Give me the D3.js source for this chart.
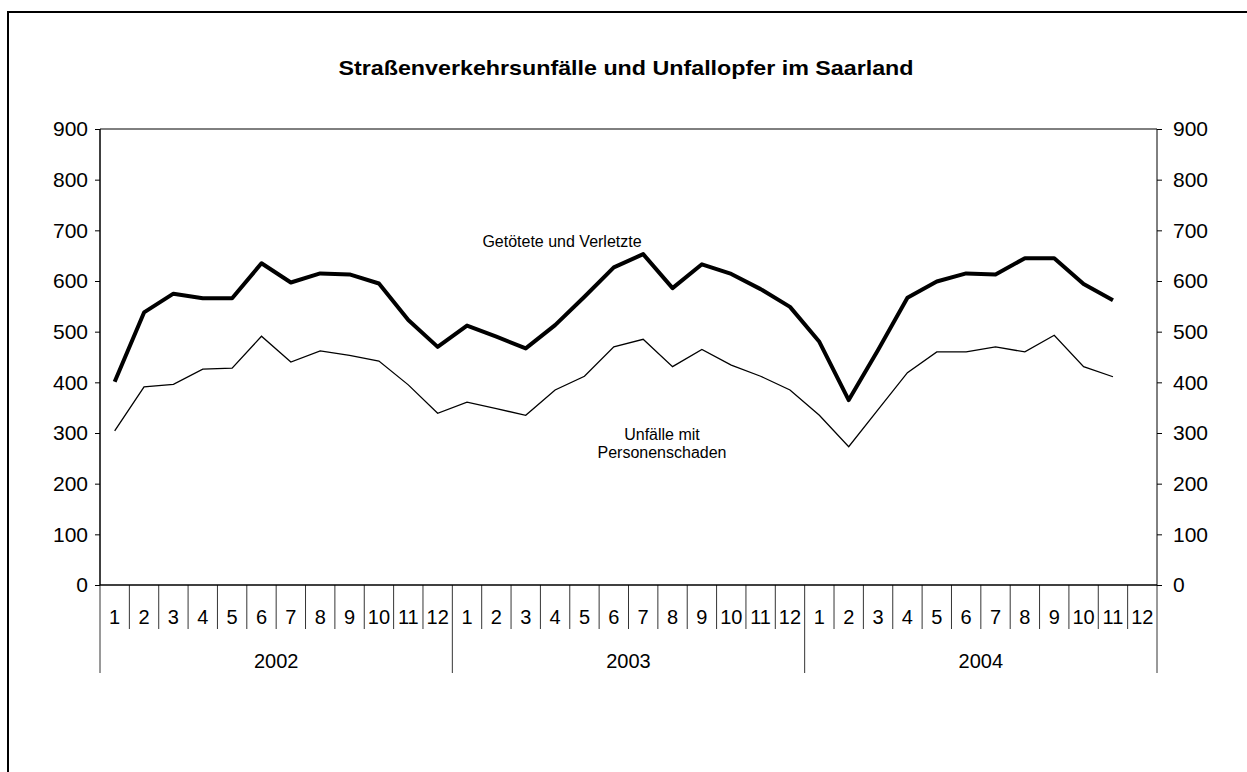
<!DOCTYPE html>
<html>
<head>
<meta charset="utf-8">
<script src="https://cdn.jsdelivr.net/npm/d3@7"></script>
<style>
  body { margin: 0; background: #fff; }
  text { font-family: "Liberation Sans", Arial, sans-serif; fill: #000; }
</style>
</head>
<body>
<div id="chart"></div>
<script>
// Daten: Monatswerte 2002-2004
var years = ["2002", "2003", "2004"];
var months = ["1","2","3","4","5","6","7","8","9","10","11","12"];
var verletzte = [401, 538, 575, 566, 566, 635, 597, 615, 613, 595, 523, 470,
                 512, 490, 467, 513, 569, 627, 653, 586, 633, 614, 584, 549,
                 480, 365, 464, 567, 599, 615, 613, 645, 645, 594, 562];
var unfaelle = [304, 391, 396, 426, 428, 491, 440, 462, 453, 442, 395, 339,
                361, 348, 335, 385, 412, 470, 485, 431, 465, 434, 412, 385,
                335, 273, 346, 419, 460, 460, 470, 460, 493, 431, 411];
var yTicks = [0, 100, 200, 300, 400, 500, 600, 700, 800, 900];

var width = 1247, height = 772;
var margin = { left: 100, right: 90, top: 129, bottom: 187 };
var innerW = width - margin.left - margin.right,
    innerH = height - margin.top - margin.bottom;

var svg = d3.select("#chart").append("svg")
    .attr("width", width)
    .attr("height", height);

// Rahmen
svg.append("rect")
    .attr("x", 8).attr("y", 12)
    .attr("width", 1260).attr("height", 800)
    .attr("fill", "none").attr("stroke", "#000").attr("stroke-width", 2);

svg.append("text")
    .attr("x", 626).attr("y", 75)
    .attr("text-anchor", "middle")
    .attr("textLength", 575).attr("lengthAdjust", "spacingAndGlyphs")
    .style("font-weight", "bold").style("font-size", "21px")
    .text("Straßenverkehrsunfälle und Unfallopfer im Saarland");

var g = svg.append("g")
    .attr("transform", "translate(" + margin.left + "," + margin.top + ")");

var cats = [];
years.forEach(function(yr) {
  months.forEach(function(m) { cats.push(yr + "-" + m); });
});

var x = d3.scaleBand().domain(cats).range([0, innerW]);
var y = d3.scaleLinear().domain([0, 900]).range([innerH, 0]);

// Achsen links und rechts
var yLeft = g.append("g").call(d3.axisLeft(y).tickValues(yTicks).tickSize(5).tickPadding(7));
var yRight = g.append("g").attr("transform", "translate(" + innerW + ",0)")
    .call(d3.axisRight(y).tickValues(yTicks).tickSize(5).tickPadding(11));
[yLeft, yRight].forEach(function(a) {
  a.select(".domain").remove();
  a.selectAll("text").style("font-size", "21px").attr("fill", "#000");
  a.selectAll("line").attr("stroke", "#000");
});
g.append("line").attr("x1", 0).attr("x2", 0).attr("y1", 0).attr("y2", innerH)
    .attr("stroke", "#000").attr("stroke-width", 1.5);
g.append("line").attr("x1", innerW).attr("x2", innerW).attr("y1", 0).attr("y2", innerH)
    .attr("stroke", "#000");
g.append("line").attr("x1", 0).attr("x2", innerW).attr("y1", 0).attr("y2", 0)
    .attr("stroke", "#000");
g.append("line").attr("x1", 0).attr("x2", innerW).attr("y1", innerH).attr("y2", innerH)
    .attr("stroke", "#000").attr("stroke-width", 1.5);

// Kategorie-Achse: Monate und Jahre
var xa = g.append("g").attr("transform", "translate(0," + innerH + ")");
xa.selectAll(".sep").data(cats).enter().append("line")
    .attr("x1", function(d) { return x(d); })
    .attr("x2", function(d) { return x(d); })
    .attr("y1", 0)
    .attr("y2", function(d, i) { return i % 12 == 0 ? 88 : 44; })
    .attr("stroke", "#000").attr("stroke-width", 0.8);
xa.append("line").attr("x1", innerW).attr("x2", innerW).attr("y1", 0).attr("y2", 88)
    .attr("stroke", "#000").attr("stroke-width", 0.8);
xa.selectAll(".mon").data(cats).enter().append("text")
    .attr("x", function(d) { return x(d) + x.bandwidth() / 2; })
    .attr("y", 39)
    .attr("text-anchor", "middle")
    .style("font-size", "20px")
    .text(function(d) { return d.split("-")[1]; });
xa.selectAll(".yr").data(years).enter().append("text")
    .attr("x", function(d) { return x(d + "-1") + x.bandwidth() * 6; })
    .attr("y", 83)
    .attr("text-anchor", "middle")
    .style("font-size", "20px")
    .text(function(d) { return d; });

var line = d3.line()
    .x(function(d, i) { return x(cats[i]) + x.bandwidth() / 2; })
    .y(function(d) { return y(d); });

g.append("path").datum(unfaelle)
    .attr("fill", "none").attr("stroke", "#000").attr("stroke-width", 1.3)
    .attr("d", line);
g.append("path").datum(verletzte)
    .attr("fill", "none").attr("stroke", "#000").attr("stroke-width", 4)
    .attr("stroke-linejoin", "round")
    .attr("d", line);

svg.append("text").attr("x", 562).attr("y", 247)
    .attr("text-anchor", "middle").style("font-size", "16px")
    .text("Getötete und Verletzte");
svg.append("text").attr("x", 662).attr("y", 440)
    .attr("text-anchor", "middle").style("font-size", "16px")
    .text("Unfälle mit");
svg.append("text").attr("x", 662).attr("y", 458)
    .attr("text-anchor", "middle").style("font-size", "16px")
    .text("Personenschaden");
</script>
</body>
</html>
